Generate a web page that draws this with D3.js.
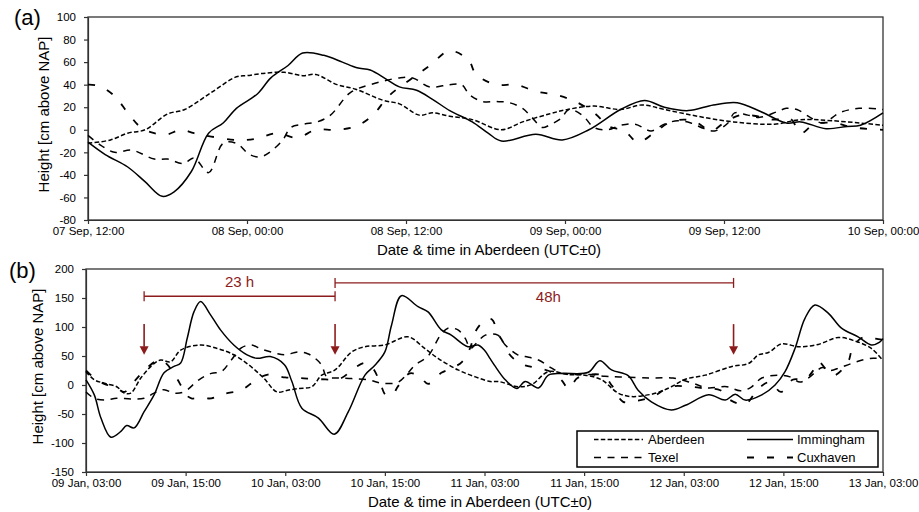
<!DOCTYPE html>
<meta charset="utf-8">
<style>

body {
  margin: 0;
  background: #fff;
}

svg {
  font-family: "Liberation Sans", Arial, sans-serif;
}

.axis text {
  font-size: 11.5px;
  fill: #000;
}

.axis path,
.axis line {
  stroke: #333;
  stroke-width: 1.2;
}

.frame {
  fill: none;
  stroke: #333;
  stroke-width: 1.3;
}

.series {
  fill: none;
  stroke: #000;
  stroke-width: 1.5;
}

.aberdeen { stroke-dasharray: 4.5, 2.3; }
.texel { stroke-dasharray: 7, 6.5; }
.cuxhaven { stroke-dasharray: 7, 13; stroke-width: 1.8; }

.title {
  font-size: 15px;
  text-anchor: middle;
}

.panel-label {
  font-size: 22px;
}

.note {
  fill: #8c1c1c;
  font-size: 15px;
  text-anchor: middle;
}

.legend text {
  font-size: 13px;
}

</style>
<body>
<script src="https://d3js.org/d3.v7.min.js"></script>
<script>

// series are [hours after panel start, cm above NAP]
// panel (a): 07 Sep 12:00 + 60 h
var aberdeenA = [[0,-12],[1.7,-9],[3,-3],[4.3,0],[6,14],[7.3,18],[9.3,33],[11.2,47],[12,48],[13.2,50],[14.8,51],[16.2,48],[17.2,49],[18.8,40],[20.2,36],[22.3,26],[23.5,23],[25,13],[26,15],[27.3,12],[29,9],[31.2,0],[32.8,7],[34.8,14],[36.2,18],[38.2,21],[40.2,18],[41.8,22],[43.5,18],[46,12],[48.7,7],[51.8,5],[53.8,9],[56.2,8],[60,4]];
var imminghamA = [[0,-11],[1.3,-22],[3,-33],[4.3,-46],[5.6,-59],[6.5,-55],[7.8,-37],[9.1,-3],[10.2,6],[11.2,19],[12.8,32],[13.8,46],[15.1,57],[16.2,68],[17.8,66],[19.2,60],[20.3,55],[21.3,53],[22.5,45],[23.5,38],[24.8,35],[26,27],[27.3,17],[29,7],[30.2,-3],[31.2,-10],[33.8,-4],[35.8,-9],[37.8,0],[40.2,18],[42,26],[43.5,20],[45.3,17],[47.2,22],[49,24],[50.8,16],[52.7,6],[53.8,7],[55.7,1],[57.3,3],[58.3,4],[60,15]];
var texelA = [[0,-5],[1,-14],[2,-20],[3.3,-18],[5,-26],[6,-26],[7.2,-30],[8,-25],[9.1,-38],[10.2,-12],[11.2,-12],[12.2,-22],[13,-24],[13.7,-20],[14.7,-9],[15.3,2],[16.3,5],[17.3,7],[18.3,13],[19.8,33],[21.3,40],[23.5,46],[24.5,46],[25.8,38],[27.3,40],[28.2,40],[28.8,31],[29.8,25],[30.8,25],[31.8,24],[32.8,19],[33.5,11],[34.3,2],[34.8,4],[35.7,10],[36.3,18],[37.3,13],[38.2,2],[39.2,0],[40.2,4],[41.3,5],[42.5,-1],[43.5,5],[44.5,8],[45.5,6],[46.5,1],[47.3,-1],[48.3,6],[48.8,15],[49.8,13],[50.7,11],[52,16],[52.7,19],[53.5,18],[54.5,11],[55.5,6],[56.7,15],[58.2,19],[60,18]];
var cuxhavenA = [[0,40],[0.8,39],[2,30],[3,15],[4,2],[5,-3],[6,-4],[7,0],[8,-3],[9.3,-6],[11.2,-9],[12.7,-8],[14.2,-3],[15.8,-7],[17.2,0],[18.7,0],[20.2,3],[21.5,13],[22.7,30],[24.5,46],[25.8,57],[27.3,70],[28.7,62],[29.3,49],[30.8,40],[32.3,40],[33.8,34],[35.3,31],[36.8,25],[38.3,14],[39.3,3],[40.5,-1],[41.5,-11],[42.7,-3],[43.8,6],[45,9],[46,6],[47,-1],[48,6],[49.2,13],[50.5,12],[51.7,9],[53,10],[53.8,-3],[54.8,5],[56.3,6],[57.8,2],[60,0]];

// panel (b): 09 Jan 03:00 + 96 h
var aberdeenB = [[0,23],[1,9],[2.2,3],[3.7,-3],[4.6,-14],[5.4,-14],[6.6,12],[8.2,37],[9,43],[10.2,40],[11.4,60],[13.8,69],[15.8,63],[17.4,55],[19.4,37],[21.4,12],[23,-12],[24.3,-9],[25.6,-6],[27.2,-3],[28.4,17],[30,26],[32,57],[33.6,66],[36,69],[38.8,83],[40.8,63],[42.4,46],[44.8,26],[46.9,14],[48.7,6],[49.7,6],[52.1,-3],[53.7,1],[55.7,23],[58.1,18],[60.1,17],[62.1,9],[64.1,-14],[65.7,-20],[67.3,-18],[68.9,-13],[70.5,-3],[72.2,10],[74.6,17],[77.8,32],[79.8,37],[81,52],[82.2,56],[83.8,71],[85.8,66],[88.2,70],[90.6,82],[92.6,76],[94.6,63],[96,42]];
var imminghamB = [[0,9],[1,-17],[1.8,-57],[3,-90],[4.2,-80],[4.9,-70],[5.8,-74],[7,-46],[8.2,-17],[9.4,21],[10.6,32],[11.4,38],[12.2,81],[13,126],[13.8,144],[15,121],[16.2,95],[17.8,69],[19.4,52],[20.6,46],[22.2,49],[23.9,35],[24.8,6],[26,-40],[28,-57],[29.9,-85],[31.6,-46],[33.6,17],[34.8,34],[36,57],[36.8,103],[38,154],[40,135],[41.2,126],[42.8,95],[44,86],[46,66],[47.2,69],[48,60],[48.7,45],[49.3,32],[50.5,9],[51.9,-6],[52.9,6],[54.5,-5],[55.7,17],[57.3,20],[60.5,22],[61.9,42],[63.3,26],[65.3,16],[66.5,-9],[68.1,-29],[70.5,-43],[72.2,-35],[75,-17],[77,-26],[78.2,-16],[79.4,-26],[81.4,-17],[83,0],[84.2,23],[85.4,63],[86.6,115],[87.8,138],[89.4,124],[91,98],[93,83],[94.6,69],[95.6,74],[96,80]];
var texelB = [[0,-12],[1,-23],[2.2,-26],[3.7,-23],[5.4,-24],[7,-23],[8.2,-14],[9.4,-8],[10.6,-14],[11.8,-12],[13.6,9],[15.1,20],[16.3,23],[17.5,43],[18.7,64],[19.9,69],[21.1,62],[22.8,55],[24,52],[25.5,57],[26.7,54],[27.6,46],[28.4,34],[29,14],[30.4,12],[32,11],[34,9],[35.7,3],[37.6,5],[38.8,21],[39.6,34],[41.2,50],[42.7,86],[43.6,98],[44.8,95],[45.7,80],[46.3,63],[47.2,75],[48.1,86],[49.6,86],[50.5,69],[52,52],[52.9,49],[54.5,43],[56.1,29],[57.3,20],[60.7,18],[62.5,15],[64.3,14],[67.9,12],[70.7,12],[73.1,3],[74.8,-5],[77.2,-3],[78.8,-10],[80,-5],[81.4,12],[83.3,17],[84.8,14],[86,5],[87,12],[88.7,30],[89.6,25],[90.8,30],[92,36],[93.5,43],[94.8,46],[96,45]];
var cuxhavenB = [[0,25],[1,12],[2.2,2],[3.7,-5],[4.6,-12],[5.8,6],[7.3,29],[8.8,43],[9.6,38],[10.7,17],[11.4,0],[12,-16],[12.7,-23],[13.7,-22],[15.1,-23],[16.7,-15],[18.7,-9],[20.4,8],[21.9,18],[24,13],[25.8,12],[28.2,10],[30.6,11],[32.4,30],[33.6,38],[34.5,30],[35.4,5],[36.1,-17],[36.9,-17],[37.6,-2],[39,20],[40.2,15],[41.2,2],[42.8,21],[43.9,28],[45.3,40],[46.3,65],[46.9,92],[48.1,112],[48.9,113],[49.6,89],[50.2,75],[50.8,57],[51.7,43],[52.9,34],[54.5,29],[56.1,22],[57.3,8],[58.1,-6],[59.2,12],[60.7,18],[62.3,16],[63.4,-2],[64.7,-29],[66.4,-27],[68.3,-20],[70.4,-3],[72.8,-3],[74.6,-6],[76.4,-9],[77.6,-26],[79.4,-33],[81,-6],[82.4,5],[83.7,-12],[85.1,9],[86.6,10],[87.5,23],[88.2,40],[89.4,23],[90.2,17],[91.8,40],[92.3,63],[93.3,80],[94.1,83],[95.1,80],[96,78]];

var xTickHoursA = [0, 12, 24, 36, 48, 60];
var xTickHoursB = [0, 12, 24, 36, 48, 60, 72, 84, 96];
var yTicksA = d3.range(-80, 101, 20);
var yTicksB = d3.range(-150, 201, 50);

// annotation in panel (b): arrows at these hours, spans between them
var arrowHours = [7, 30, 78];
var spans = [
  {from: 7, to: 30, label: "23 h", level: 153},
  {from: 30, to: 78, label: "48h", level: 176}
];

var legendNames = ["Aberdeen", "Immingham", "Texel", "Cuxhaven"];

var hour = 3600e3;
var fmt = d3.utcFormat("%d %b, %H:%M");
var red = "#8c1c1c";

var svg = d3.select("body").append("svg")
    .attr("width", 919)
    .attr("height", 512);

function panel(o) {
  var t0 = o.start.getTime();
  function at(h) { return new Date(t0 + h * hour); }

  var x = d3.scaleUtc()
      .domain([at(0), at(o.hours)])
      .range([o.left, o.right]);
  var y = d3.scaleLinear()
      .domain(o.ydomain)
      .range([o.bottom, o.top]);

  var g = svg.append("g");

  g.append("g")
      .attr("class", "axis")
      .attr("transform", "translate(0," + o.bottom + ")")
      .call(d3.axisBottom(x)
        .tickValues(o.xticks.map(at))
        .tickFormat(fmt)
        .tickSize(4)
        .tickSizeOuter(0));

  g.append("g")
      .attr("class", "axis")
      .attr("transform", "translate(" + o.left + ",0)")
      .call(d3.axisLeft(y)
        .tickValues(o.yticks)
        .tickFormat(function(d) { return String(d); })
        .tickSize(4)
        .tickPadding(8)
        .tickSizeOuter(0));

  g.append("rect")
      .attr("class", "frame")
      .attr("x", o.left)
      .attr("y", o.top)
      .attr("width", o.right - o.left)
      .attr("height", o.bottom - o.top);

  var line = d3.line()
      .curve(d3.curveCatmullRom.alpha(0.5))
      .x(function(d) { return x(at(d[0])); })
      .y(function(d) { return y(d[1]); });

  o.series.forEach(function(s) {
    g.append("path")
        .attr("class", "series " + s.cls)
        .attr("d", line(s.data));
  });

  g.append("text")
      .attr("class", "title")
      .attr("x", o.titleX)
      .attr("y", o.bottom + 35)
      .text("Date & time in Aberdeen (UTC\u00b10)");

  g.append("text")
      .attr("class", "title")
      .attr("transform", "translate(" + o.ytitleX + "," + ((o.top + o.bottom) / 2 - 4) + ") rotate(-90)")
      .text("Height [cm above NAP]");

  g.append("text")
      .attr("class", "panel-label")
      .attr("x", o.labelX)
      .attr("y", o.labelY)
      .text(o.label);

  return {x: x, y: y, at: at, g: g};
}

panel({
  start: new Date(Date.UTC(2017, 8, 7, 12)), hours: 60,
  left: 88, right: 883, top: 17, bottom: 220,
  ydomain: [-80, 100], xticks: xTickHoursA, yticks: yTicksA,
  titleX: 489, ytitleX: 49, label: "(a)", labelX: 14, labelY: 25,
  series: [
    {cls: "aberdeen", data: aberdeenA},
    {cls: "texel", data: texelA},
    {cls: "cuxhaven", data: cuxhavenA},
    {cls: "immingham", data: imminghamA}
  ]
});

var b = panel({
  start: new Date(Date.UTC(2017, 0, 9, 3)), hours: 96,
  left: 86, right: 883, top: 269, bottom: 472,
  ydomain: [-150, 200], xticks: xTickHoursB, yticks: yTicksB,
  titleX: 480, ytitleX: 43, label: "(b)", labelX: 9, labelY: 278,
  series: [
    {cls: "aberdeen", data: aberdeenB},
    {cls: "texel", data: texelB},
    {cls: "cuxhaven", data: cuxhavenB},
    {cls: "immingham", data: imminghamB}
  ]
});

function bx(h) { return b.x(b.at(h)); }

// arrows
arrowHours.forEach(function(h) {
  var cx = bx(h);
  b.g.append("line")
      .attr("x1", cx).attr("x2", cx)
      .attr("y1", b.y(105)).attr("y2", b.y(66))
      .attr("stroke", red)
      .attr("stroke-width", 1.6);
  b.g.append("path")
      .attr("d", "M" + (cx - 4.5) + "," + b.y(67) + "L" + (cx + 4.5) + "," + b.y(67) + "L" + cx + "," + b.y(52) + "Z")
      .attr("fill", red);
});

// spans with end caps
spans.forEach(function(s, i) {
  var x1 = bx(s.from), x2 = bx(s.to), yy = b.y(s.level);
  b.g.append("line")
      .attr("x1", x1).attr("x2", x2)
      .attr("y1", yy).attr("y2", yy)
      .attr("stroke", red)
      .attr("stroke-width", 1.3);
  [x1, x2].forEach(function(cx) {
    b.g.append("line")
        .attr("x1", cx).attr("x2", cx)
        .attr("y1", yy - 5).attr("y2", yy + 5)
        .attr("stroke", red)
        .attr("stroke-width", 1.3);
  });
  b.g.append("text")
      .attr("class", "note")
      .attr("x", i === 0 ? (x1 + x2) / 2 : (x1 + x2) / 2 + 14)
      .attr("y", i === 0 ? yy - 9 : yy + 19)
      .text(s.label);
});

// legend
var legend = svg.append("g")
    .attr("class", "legend")
    .attr("transform", "translate(577,431)");

legend.append("rect")
    .attr("width", 301)
    .attr("height", 36)
    .attr("fill", "#fff")
    .attr("stroke", "#000")
    .attr("stroke-width", 1.5);

var item = legend.selectAll(".item")
    .data(legendNames)
  .enter().append("g")
    .attr("class", "item")
    .attr("transform", function(d, i) {
      return "translate(" + (i % 2 ? 170 : 17) + "," + (i < 2 ? 8.5 : 26.5) + ")";
    });

item.append("line")
    .attr("class", function(d) { return "series " + d.toLowerCase(); })
    .attr("x1", 0)
    .attr("x2", function(d, i) { return i % 2 ? 46 : 49; });

item.append("text")
    .attr("x", function(d, i) { return i % 2 ? 50 : 54; })
    .attr("dy", "0.35em")
    .text(function(d) { return d; });

</script>
</body>
